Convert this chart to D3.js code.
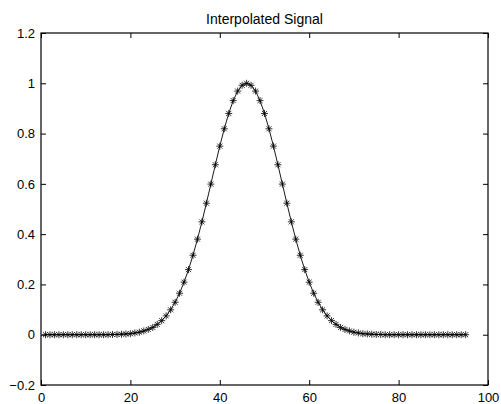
<!DOCTYPE html>
<html>
<head>
<meta charset="utf-8">
<script src="https://cdn.jsdelivr.net/npm/d3@7"></script>
<style>
  html, body { margin: 0; padding: 0; background: #fff; }
  svg { display: block; }
  text { font-family: "Liberation Sans", Arial, Helvetica, sans-serif; fill: #000; }
</style>
</head>
<body>
<svg id="chart" width="501" height="404"></svg>
<script>
// Sample index and interpolated signal value at each sample
const sampleX = d3.range(1, 96);
const signalY = [
  0, 0, 0, 0, 0, 0, 0, 0, 0, 0,
  0, 0, 0, 0, 0, 0.001, 0.001, 0.002, 0.003, 0.004,
  0.007, 0.010, 0.015, 0.021, 0.029, 0.041, 0.056, 0.075, 0.099, 0.129,
  0.165, 0.209, 0.259, 0.316, 0.380, 0.449, 0.523, 0.599, 0.676, 0.750,
  0.819, 0.880, 0.931, 0.969, 0.992, 1.000, 0.992, 0.969, 0.931, 0.880,
  0.819, 0.750, 0.676, 0.599, 0.523, 0.449, 0.380, 0.316, 0.259, 0.209,
  0.165, 0.129, 0.099, 0.075, 0.056, 0.041, 0.029, 0.021, 0.015, 0.010,
  0.007, 0.004, 0.003, 0.002, 0.001, 0.001, 0, 0, 0, 0,
  0, 0, 0, 0, 0, 0, 0, 0, 0, 0,
  0, 0, 0, 0, 0
];
const xTicks = [0, 20, 40, 60, 80, 100];
const yTicks = [-0.2, 0, 0.2, 0.4, 0.6, 0.8, 1, 1.2];
const titleText = "Interpolated Signal";

const data = sampleX.map((x, i) => ({ x, y: signalY[i] }));

const svg = d3.select("#chart");
const mLeft = 41, mRight = 488, mTop = 33, mBottom = 385;

const x = d3.scaleLinear().domain([0, 100]).range([mLeft, mRight]);
const y = d3.scaleLinear().domain([-0.2, 1.2]).range([mBottom, mTop]);

const fmt = v => (v < 0 ? "\u2212" : "") + d3.format("")(Math.abs(+v.toFixed(1)));

// Box with inward ticks on all four sides
const tickLen = 5;
const axisStyle = g => {
  g.select(".domain").remove();
  g.selectAll("line").attr("stroke", "#000").attr("stroke-width", 1);
  g.selectAll("text").style("font-size", "13px");
};

svg.append("g")
  .attr("transform", `translate(0,${mBottom})`)
  .call(d3.axisBottom(x).tickValues(xTicks).tickSize(-tickLen).tickPadding(8).tickFormat(fmt))
  .call(axisStyle);

svg.append("g")
  .attr("transform", `translate(0,${mTop})`)
  .call(d3.axisTop(x).tickValues(xTicks).tickSize(-tickLen).tickFormat(""))
  .call(axisStyle);

svg.append("g")
  .attr("transform", `translate(${mLeft},0)`)
  .call(d3.axisLeft(y).tickValues(yTicks).tickSize(-tickLen).tickPadding(6).tickFormat(fmt))
  .call(axisStyle);

svg.append("g")
  .attr("transform", `translate(${mRight},0)`)
  .call(d3.axisRight(y).tickValues(yTicks).tickSize(-tickLen).tickFormat(""))
  .call(axisStyle);

svg.append("rect")
  .attr("x", mLeft).attr("y", mTop)
  .attr("width", mRight - mLeft).attr("height", mBottom - mTop)
  .attr("fill", "none").attr("stroke", "#000").attr("stroke-width", 1.2);

// Signal line
svg.append("path")
  .datum(data)
  .attr("fill", "none")
  .attr("stroke", "#000")
  .attr("stroke-width", 0.9)
  .attr("d", d3.line().x(d => x(d.x)).y(d => y(d.y)));

// Asterisk markers
const r = 3.5;
const star = `M${-r},0L${r},0M0,${-r}L0,${r}` +
  `M${-r * 0.72},${-r * 0.72}L${r * 0.72},${r * 0.72}` +
  `M${-r * 0.72},${r * 0.72}L${r * 0.72},${-r * 0.72}`;
svg.append("g")
  .selectAll("path")
  .data(data)
  .join("path")
  .attr("transform", d => `translate(${x(d.x)},${y(d.y)})`)
  .attr("d", star)
  .attr("fill", "none")
  .attr("stroke", "#000")
  .attr("stroke-width", 0.8);

// Title
svg.append("text")
  .attr("x", (mLeft + mRight) / 2)
  .attr("y", 24)
  .attr("text-anchor", "middle")
  .style("font-size", "14px")
  .text(titleText);
</script>
</body>
</html>
